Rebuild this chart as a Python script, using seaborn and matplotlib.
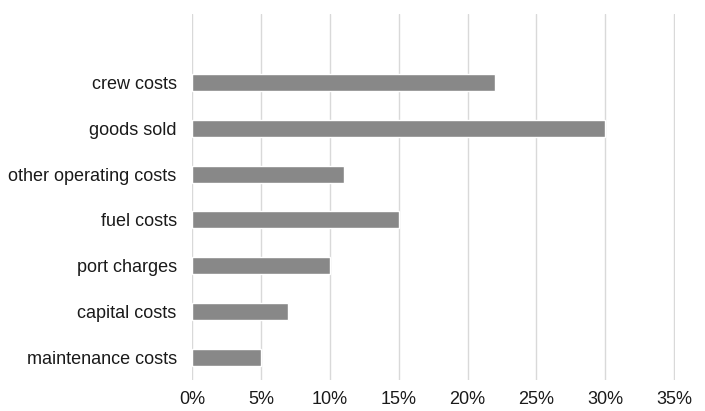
import numpy as np
import pandas as pd
import matplotlib
matplotlib.use('Agg')
from matplotlib import pyplot as plt
import seaborn as sns

# ---- data
categories = ['crew costs', 'goods sold', 'other operating costs', 'fuel costs',
              'port charges', 'capital costs', 'maintenance costs']
shares = [22, 30, 11, 15, 10, 7, 5]
tick_vals = [0, 5, 10, 15, 20, 25, 30, 35]
tick_labels = [str(v) + '%' for v in tick_vals]

df = pd.DataFrame({'category': categories, 'share': shares})

# ---- plot
sns.set_style('white')
plt.rcParams['font.family'] = ['Liberation Sans', 'DejaVu Sans']

fig = plt.figure(figsize=(7.05, 4.11), dpi=100)
ax = fig.add_axes([0.2723, 0.0754, 0.6851, 0.8906])

sns.barplot(data=df, x='share', y='category', order=categories, orient='h',
            color='#888888', saturation=1, width=0.37, ax=ax)

ax.set_xlim(0, 35.05)
ax.set_ylim(len(categories) - 0.5, -1.5)
ax.set_xticks(tick_vals)
ax.set_xticklabels(tick_labels)
ax.set_xlabel('')
ax.set_ylabel('')

ax.grid(axis='x', color='#d9d9d9', linewidth=1)
ax.set_axisbelow(True)
for s in ax.spines.values():
    s.set_visible(False)
ax.tick_params(axis='y', length=0, pad=11, labelsize=13, labelcolor='#1a1a1a')
ax.tick_params(axis='x', length=0, pad=8, labelsize=13, labelcolor='#1a1a1a')

fig.savefig('out.png', dpi=100)
